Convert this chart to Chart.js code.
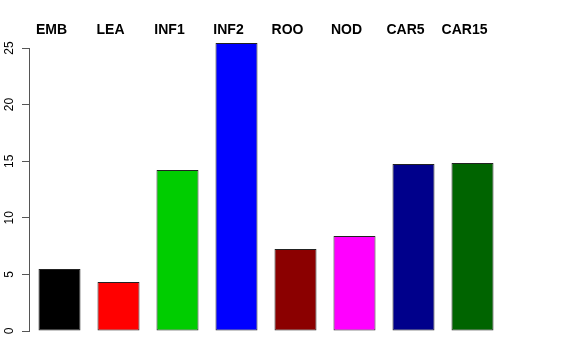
<!DOCTYPE html>
<html>
<head>
<meta charset="utf-8">
<script src="https://cdn.jsdelivr.net/npm/chart.js@4.4.0/dist/chart.umd.min.js"></script>
<style>
  body { margin: 0; background: #fff; }
  #wrap { width: 576px; height: 360px; }
</style>
</head>
<body>
<div id="wrap"><canvas id="myChart" width="576" height="360"></canvas></div>
<script>
const tissues = ["EMB", "LEA", "INF1", "INF2", "ROO", "NOD", "CAR5", "CAR15"];
const values = [5.48, 4.33, 14.22, 25.44, 7.24, 8.39, 14.75, 14.84];
const barColors = ["#000000", "#FF0000", "#00CD00", "#0000FF", "#8B0000", "#FF00FF", "#00008B", "#006400"];
const yTicks = [0, 5, 10, 15, 20, 25];

// R style axis line: only spans first to last tick
const axisLine = {
  id: "axisLine",
  afterDraw(chart) {
    const y = chart.scales.y;
    const ctx = chart.ctx;
    ctx.save();
    ctx.strokeStyle = "#555";
    ctx.lineWidth = 1;
    ctx.beginPath();
    const x = Math.round(y.right) - 0.5;
    ctx.moveTo(x, Math.round(y.getPixelForValue(yTicks[0])) + 0.5);
    ctx.lineTo(x, Math.round(y.getPixelForValue(yTicks[yTicks.length - 1])) + 0.5);
    ctx.stroke();
    ctx.restore();
  }
};

// category names above the bars (a bit left of centre, like the original)
const topLabels = {
  id: "topLabels",
  afterDraw(chart) {
    const x = chart.scales.x;
    const ctx = chart.ctx;
    ctx.save();
    ctx.fillStyle = "#000";
    ctx.font = "bold 14px 'Liberation Sans'";
    ctx.textAlign = "center";
    ctx.textBaseline = "middle";
    tissues.forEach((t, i) => {
      ctx.fillText(t, x.getPixelForValue(i) - 8, chart.chartArea.top - 7);
    });
    ctx.restore();
  }
};

const ctx = document.getElementById("myChart").getContext("2d");
const chart = new Chart(ctx, {
  type: "bar",
  data: {
    labels: tissues,
    datasets: [
      {
        data: values,
        backgroundColor: barColors,
        borderColor: "#222",
        borderWidth: 1,
        borderSkipped: false,
        barPercentage: 0.712,
        categoryPercentage: 1,
      },
    ],
  },
  options: {
    responsive: false,
    animation: false,
    layout: { padding: { left: 1, right: 74, top: 36.7, bottom: 29 } },
    plugins: { legend: { display: false }, tooltip: { enabled: false } },
    scales: {
      x: {
        display: false,
      },
      y: {
        min: 0,
        max: 26,
        afterBuildTicks: (s) => { s.ticks = yTicks.map((v) => ({ value: v })); },
        grid: { drawOnChartArea: false, drawTicks: true, tickLength: 8, color: "#555" },
        border: { display: false },
        ticks: {
          color: "#000",
          font: { family: "Liberation Sans", size: 12 },
          minRotation: 90,
          maxRotation: 90,
          crossAlign: "center",
          padding: 6,
        },
        afterFit: (s) => { s.width = 29; },
      },
    },
  },
  plugins: [axisLine, topLabels],
});
</script>
</body>
</html>
